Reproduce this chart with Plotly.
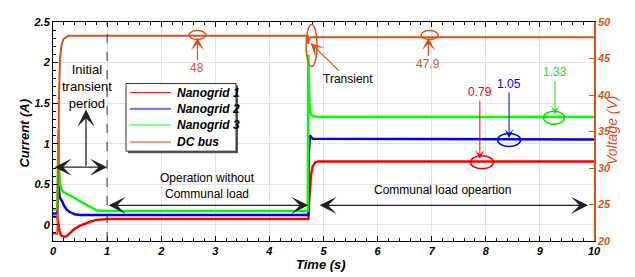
import plotly.graph_objects as go

# ---------------- data ----------------
t_ng1 = [0, 0.08, 0.1, 0.12, 0.15, 0.2, 0.25, 0.3, 0.4, 0.5, 0.6, 0.7, 0.8, 1.0, 1.5, 4.72, 4.74, 4.77, 4.8, 4.85, 4.9, 10]
i_ng1 = [0.1, 0.1, 0.02, -0.08, -0.13, -0.15, -0.14, -0.11, -0.05, -0.01, 0.02, 0.04, 0.06, 0.07, 0.07, 0.07, 0.35, 0.62, 0.72, 0.77, 0.78, 0.78]

t_ng2 = [0, 0.08, 0.1, 0.12, 0.14, 0.17, 0.2, 0.25, 0.3, 0.35, 0.4, 0.5, 1.0, 4.72, 4.73, 4.75, 4.8, 10]
i_ng2 = [0.14, 0.14, 0.6, 0.35, 0.32, 0.29, 0.24, 0.19, 0.16, 0.14, 0.13, 0.12, 0.12, 0.12, 0.9, 1.1, 1.06, 1.05]

t_ng3 = [0, 0.08, 0.1, 0.11, 0.13, 0.16, 0.2, 0.3, 0.4, 0.5, 0.6, 0.7, 0.8, 1.0, 4.71, 4.72, 4.73, 4.74, 4.76, 4.8, 4.9, 10]
i_ng3 = [0.19, 0.19, 1.17, 0.75, 0.5, 0.43, 0.4, 0.37, 0.33, 0.29, 0.25, 0.21, 0.18, 0.17, 0.17, 2.1, 1.8, 1.5, 1.38, 1.34, 1.33, 1.33]

t_bus = [0, 0.08, 0.1, 0.11, 0.13, 0.16, 0.2, 0.28, 4.71, 4.72, 4.73, 4.76, 10]
v_bus = [21, 21, 30, 40, 45, 47, 47.7, 48.1, 48.1, 47.0, 47.6, 47.9, 47.9]

series_names = ["Nanogrid 1", "Nanogrid 2", "Nanogrid 3", "DC bus"]
series_colors = ["#FF0000", "#0000FF", "#00FF00", "#D95319"]
legend_colors = ["#FF0000", "#7B7BFF", "#00FF00", "#EBA282"]
legend_widths = [1, 2.2, 1, 2.2]

x_ticks = [0, 1, 2, 3, 4, 5, 6, 7, 8, 9, 10]
y_ticks = [0, 0.5, 1, 1.5, 2, 2.5]
y2_ticks = [20, 25, 30, 35, 40, 45, 50]

ORANGE = "#D95319"
FAM = "Liberation Sans, Arial, sans-serif"
BI = dict(family=FAM, weight="bold", style="italic")

# plot area in window pixels (page has an 8 px body margin)
PL, PR, PT, PB = 53, 594, 16, 233
def px(xp):
    return (xp - PL) / (PR - PL)
def py(yp):
    return (PB - yp) / (PB - PT)

fig = go.Figure()
for tt, vv, nm, col in [(t_ng1, i_ng1, series_names[0], series_colors[0]),
                        (t_ng2, i_ng2, series_names[1], series_colors[1]),
                        (t_ng3, i_ng3, series_names[2], series_colors[2])]:
    fig.add_trace(go.Scatter(x=tt, y=vv, name=nm, mode="lines", line=dict(color=col, width=2.5)))
fig.add_trace(go.Scatter(x=t_bus, y=v_bus, name=series_names[3], mode="lines", yaxis="y2",
                         line=dict(color=series_colors[3], width=2)))

fig.update_layout(
    width=627, height=269,
    margin=dict(l=45, r=41, t=8, b=36),
    plot_bgcolor="white", paper_bgcolor="white",
    font=dict(family=FAM, size=12, color="black"),
    showlegend=False,
    xaxis=dict(range=[0, 10], tickvals=x_ticks, ticks="inside", ticklen=5, tickcolor="black",
               showline=True, linecolor="black", linewidth=1, mirror="ticks",
               showgrid=True, gridcolor="#E3E3E3", gridwidth=1, zeroline=False,
               tickfont=dict(size=11, **BI),
               minor=dict(dtick=0.2, ticks="inside", ticklen=3, tickcolor="black", showgrid=False)),
    yaxis=dict(range=[-0.2, 2.5], tickvals=y_ticks, ticks="inside", ticklen=5, tickcolor="black",
               showline=True, linecolor="black", linewidth=1,
               showgrid=True, gridcolor="#E3E3E3", gridwidth=1, zeroline=False,
               tickfont=dict(size=11, **BI),
               minor=dict(dtick=0.1, ticks="inside", ticklen=3, tickcolor="black", showgrid=False)),
    yaxis2=dict(range=[20, 50], tickvals=y2_ticks, overlaying="y", side="right",
                ticks="inside", ticklen=5, tickcolor=ORANGE,
                showline=True, linecolor=ORANGE, linewidth=1.5, showgrid=False, zeroline=False,
                tickfont=dict(size=11, color=ORANGE, **BI)),
)

# axis titles
fig.add_annotation(text="Current (A)", xref="paper", yref="paper", x=px(15), y=py(126),
                   textangle=-90, showarrow=False, font=dict(size=13, **BI))
fig.add_annotation(text="Voltage (V)", xref="paper", yref="paper", x=px(622), y=py(123),
                   textangle=-90, showarrow=False,
                   font=dict(size=14, color=ORANGE, family=FAM, style="italic"))
fig.add_annotation(text="Time (s)", xref="paper", yref="paper", x=px(321), y=py(266),
                   showarrow=False, font=dict(size=13, **BI))

# custom legend (box with shadow)
fig.add_shape(type="rect", xref="paper", yref="paper", x0=px(128), x1=px(238), y0=py(79), y1=py(146),
              line=dict(width=0), fillcolor="#555555", layer="above")
fig.add_shape(type="rect", xref="paper", yref="paper", x0=px(126), x1=px(236), y0=py(77), y1=py(144),
              line=dict(color="#333333", width=1), fillcolor="white", layer="above")
row_y = [86, 102, 118, 135]
for k in range(4):
    fig.add_shape(type="line", xref="paper", yref="paper", x0=px(130), x1=px(171),
                  y0=py(row_y[k]), y1=py(row_y[k]), layer="above",
                  line=dict(color=legend_colors[k], width=legend_widths[k]))
    fig.add_annotation(text=series_names[k], xref="paper", yref="paper", x=px(175), y=py(row_y[k]),
                       xanchor="left", yanchor="middle", showarrow=False, font=dict(size=12, **BI))

# dashed separator at t = 1
fig.add_shape(type="line", x0=1, x1=1, xref="x", y0=0, y1=1, yref="paper",
              line=dict(color="#333333", width=1, dash="dash"))

# Initial transient period
fig.add_annotation(text="Initial<br>transient<br>period", x=0.63, y=1.70, xref="x", yref="y",
                   showarrow=False, font=dict(size=13))
fig.add_annotation(x=0.61, y=1.42, ax=0.61, ay=0.71, xref="x", yref="y", axref="x", ayref="y",
                   text="", showarrow=True, arrowhead=3, arrowsize=2.2, arrowwidth=1.3, arrowcolor="#222")
fig.add_annotation(x=1.0, y=0.71, ax=0.0, ay=0.71, xref="x", yref="y", axref="x", ayref="y",
                   text="", showarrow=True, arrowhead=3, startarrowhead=3, arrowside="end+start",
                   arrowsize=2.2, startarrowsize=2.2, arrowwidth=1.3, arrowcolor="#222")

# Operation without communal load
fig.add_annotation(text="Operation without<br>Communal load", x=2.85, y=0.48, xref="x", yref="y",
                   showarrow=False, font=dict(size=12))
fig.add_annotation(x=4.72, y=0.24, ax=1.0, ay=0.24, xref="x", yref="y", axref="x", ayref="y",
                   text="", showarrow=True, arrowhead=3, startarrowhead=3, arrowside="end+start",
                   arrowsize=2.2, startarrowsize=2.2, arrowwidth=1.3, arrowcolor="#222")

# Communal load operation
fig.add_annotation(text="Communal load opeartion", x=7.2, y=0.43, xref="x", yref="y",
                   showarrow=False, font=dict(size=12))
fig.add_annotation(x=9.89, y=0.24, ax=4.9, ay=0.24, xref="x", yref="y", axref="x", ayref="y",
                   text="", showarrow=True, arrowhead=3, startarrowhead=3, arrowside="end+start",
                   arrowsize=2.2, startarrowsize=2.2, arrowwidth=1.3, arrowcolor="#222")

# ellipses
def ellipse(xc, yc, w, h, color):
    fig.add_shape(type="circle", xref="x", yref="y", xsizemode="pixel", ysizemode="pixel",
                  xanchor=xc, yanchor=yc, x0=-w / 2, x1=w / 2, y0=-h / 2, y1=h / 2,
                  line=dict(color=color, width=1.5))

ellipse(2.67, 2.34, 17, 9, ORANGE)
ellipse(6.96, 2.34, 17, 9, ORANGE)
ellipse(4.78, 2.21, 11, 42, ORANGE)
ellipse(7.93, 0.77, 23, 13, "#FF0000")
ellipse(8.43, 1.045, 23, 13, "#0000FF")
ellipse(9.26, 1.32, 21, 13, "#00DD00")

# value call-outs
fig.add_annotation(text="48", x=2.67, y=2.31, xref="x", yref="y", ax=0, ay=31,
                   font=dict(size=12, color=ORANGE), arrowcolor=ORANGE,
                   arrowhead=3, arrowsize=1.8, arrowwidth=1.2)
fig.add_annotation(text="47.9", x=6.94, y=2.31, xref="x", yref="y", ax=0, ay=27,
                   font=dict(size=12, color=ORANGE), arrowcolor=ORANGE,
                   arrowhead=3, arrowsize=1.8, arrowwidth=1.2)
fig.add_annotation(text="Transient", x=4.76, y=2.24, xref="x", yref="y", ax=37, ay=36,
                   font=dict(size=12, color="black"), arrowcolor=ORANGE,
                   arrowhead=3, arrowsize=1.8, arrowwidth=1.2)
fig.add_annotation(text="0.79", x=7.89, y=0.81, xref="x", yref="y", ax=0, ay=-67,
                   font=dict(size=12, color="#FF0000"), arrowcolor="#FF0000",
                   arrowhead=3, arrowsize=1.5, arrowwidth=1.0)
fig.add_annotation(text="1.05", x=8.43, y=1.07, xref="x", yref="y", ax=0, ay=-54,
                   font=dict(size=12, color="#0000FF"), arrowcolor="#0000FF",
                   arrowhead=3, arrowsize=1.5, arrowwidth=1.0)
fig.add_annotation(text="1.33", x=9.28, y=1.36, xref="x", yref="y", ax=0, ay=-42,
                   font=dict(size=12, color="#22DD22"), arrowcolor="#22DD22",
                   arrowhead=3, arrowsize=1.5, arrowwidth=1.0)

fig.write_html("out.html")
